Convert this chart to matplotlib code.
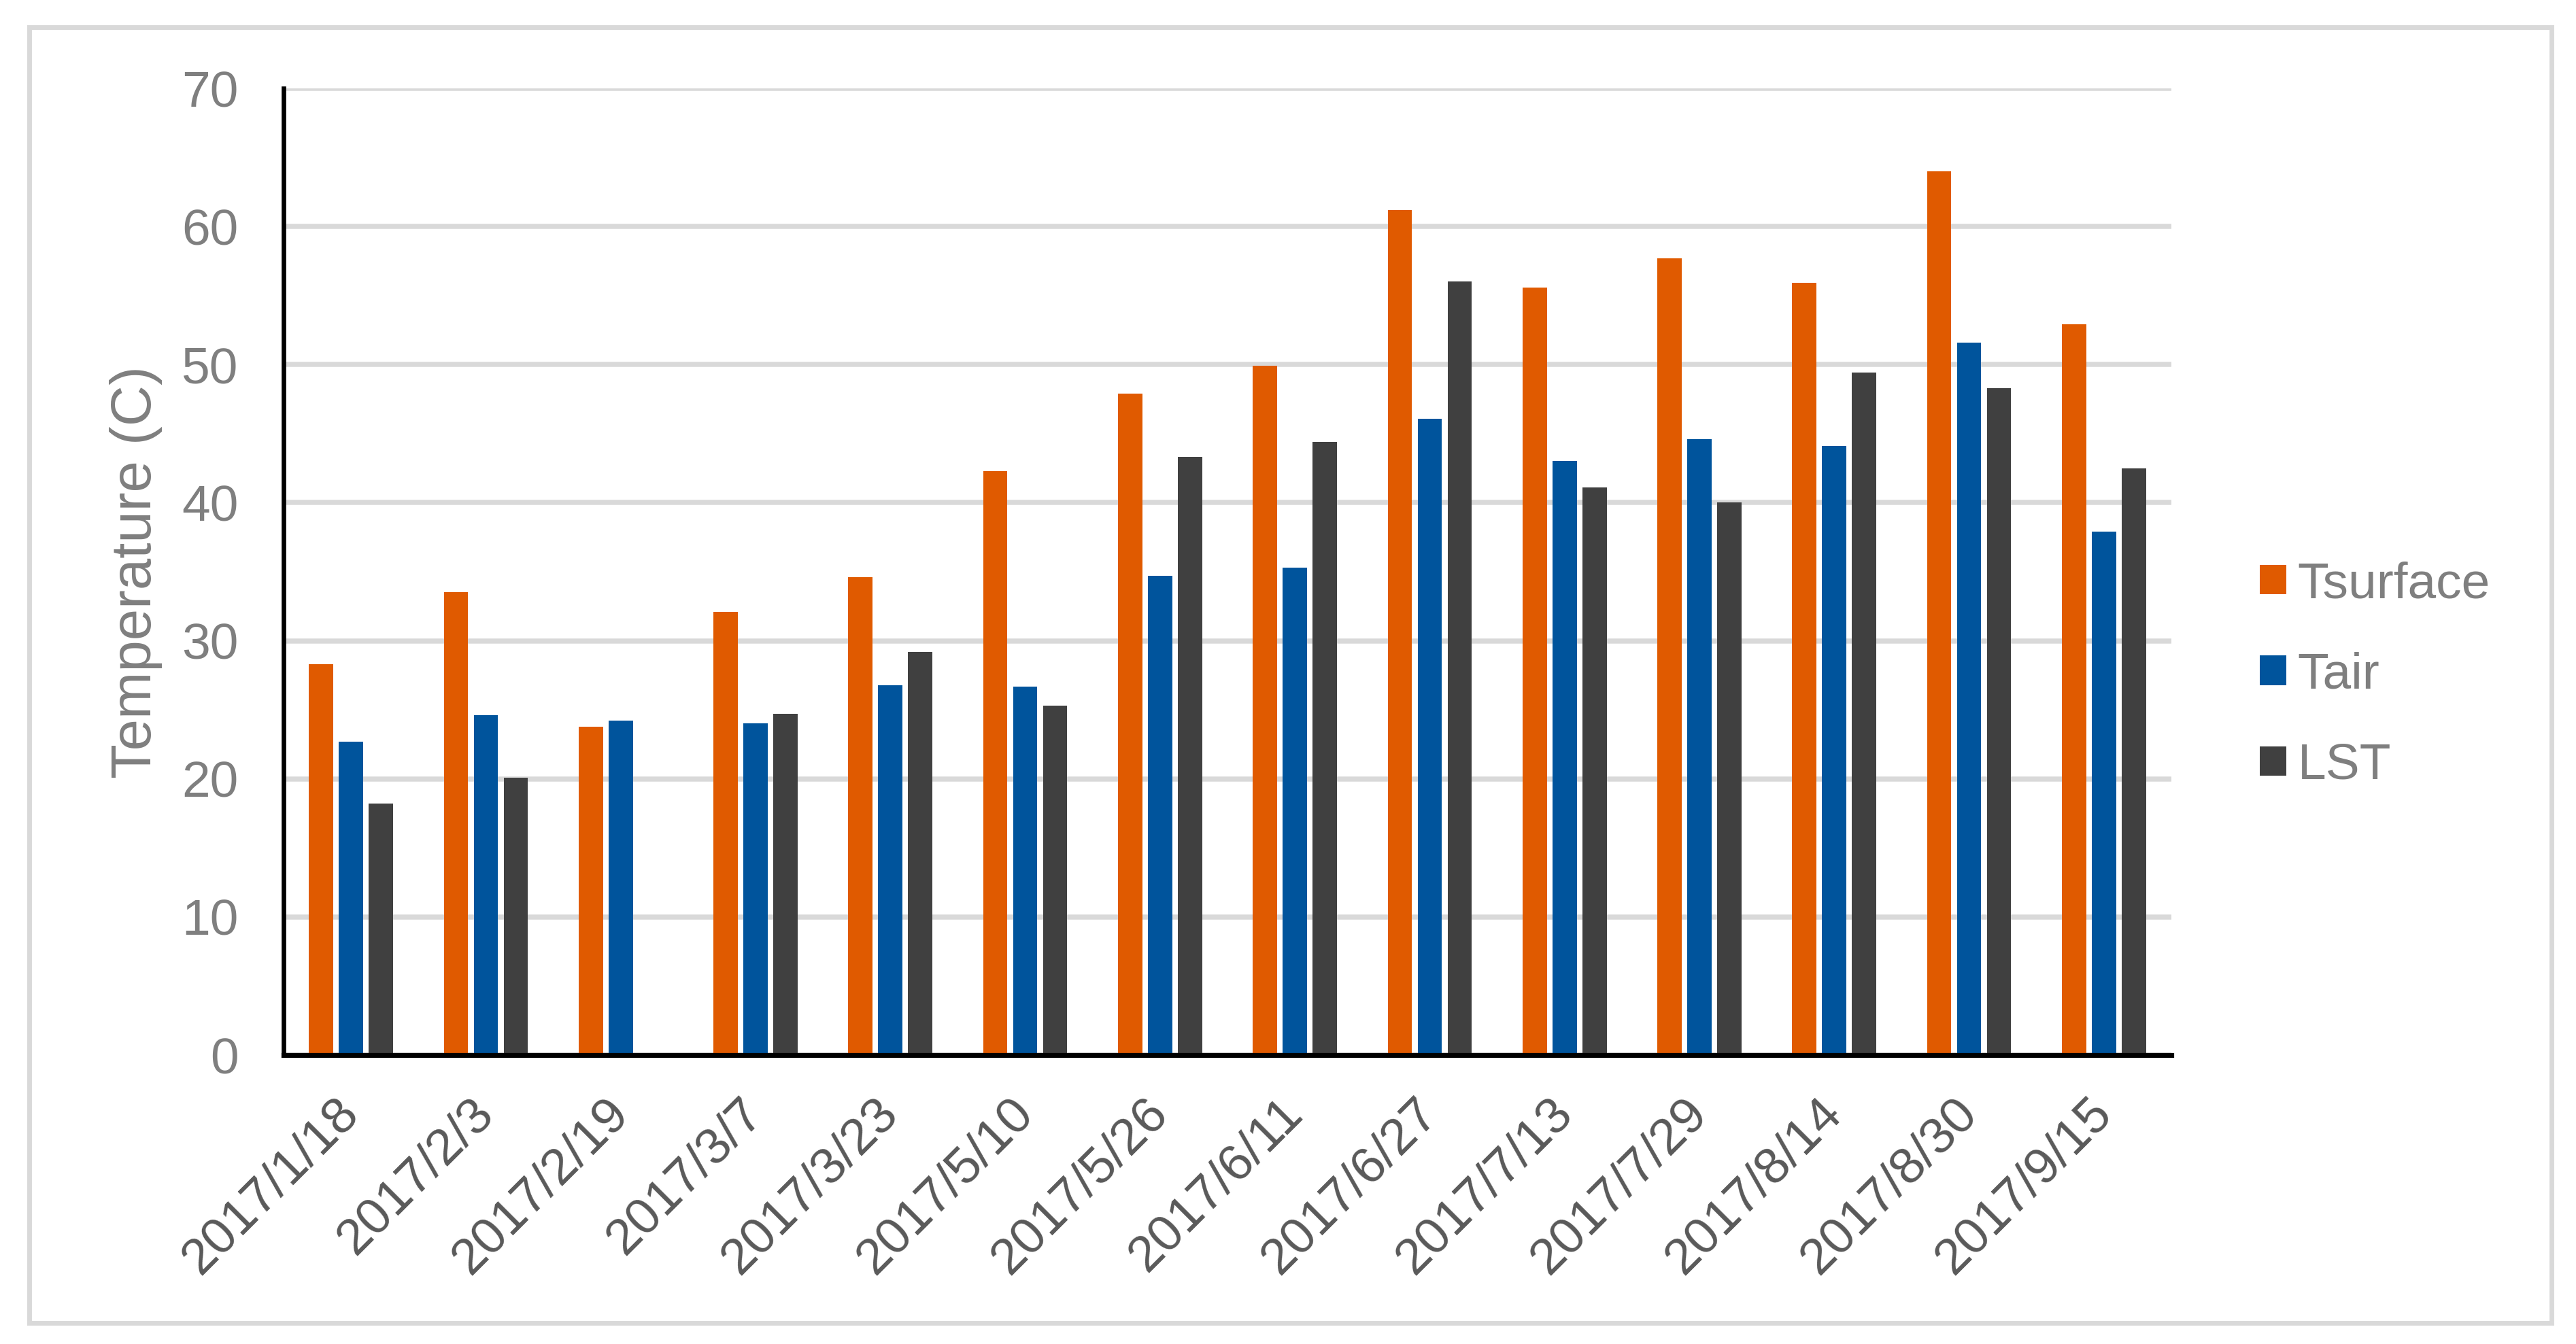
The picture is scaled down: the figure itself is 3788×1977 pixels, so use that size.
import numpy as np
import matplotlib.pyplot as plt
from matplotlib.patches import Rectangle

plt.rcParams['font.family'] = ['Liberation Sans', 'DejaVu Sans']

dates = ['2017/1/18', '2017/2/3', '2017/2/19', '2017/3/7', '2017/3/23', '2017/5/10', '2017/5/26',
         '2017/6/11', '2017/6/27', '2017/7/13', '2017/7/29', '2017/8/14', '2017/8/30', '2017/9/15']
tsurface = [28.3, 33.5, 23.8, 32.1, 34.6, 42.3, 47.9, 49.9, 61.2, 55.6, 57.7, 55.9, 64.0, 52.9]
tair = [22.7, 24.6, 24.2, 24.0, 26.8, 26.7, 34.7, 35.3, 46.1, 43.0, 44.6, 44.1, 51.6, 37.9]
lst = [18.2, 20.1, np.nan, 24.7, 29.2, 25.3, 43.3, 44.4, 56.0, 41.1, 40.0, 49.4, 48.3, 42.5]

W, H, DPI = 3788, 1977, 200
fig = plt.figure(figsize=(W / DPI, H / DPI), dpi=DPI)

# рамка вокруг всей диаграммы
fig.patches.append(Rectangle((43 / W, 1 - 1946 / H), (3752 - 43) / W, (1946 - 40) / H,
                             transform=fig.transFigure, fill=False,
                             edgecolor='#d9d9d9', linewidth=2.5))

ax = fig.add_axes([417 / W, 1 - 1552 / H, (3193 - 417) / W, (1552 - 130) / H])

x = np.arange(len(dates))
w = 0.18
step = 0.222
ax.bar(x - step, tsurface, w, color='#e05a00', label='Tsurface', zorder=3)
ax.bar(x, tair, w, color='#00549c', label='Tair', zorder=3)
ax.bar(x + step, lst, w, color='#404040', label='LST', zorder=3)

ax.set_xlim(-0.5, len(dates) - 0.5)
ax.set_ylim(0, 70)
ax.set_yticks(range(0, 71, 10))
ax.yaxis.grid(True, color='#d9d9d9', linewidth=2.7, zorder=0)
ax.set_axisbelow(True)

for s in ['top', 'right']:
    ax.spines[s].set_visible(False)
ax.spines['left'].set_linewidth(2.4)
ax.spines['bottom'].set_linewidth(2.6)
ax.spines['left'].set_zorder(4)
ax.spines['bottom'].set_zorder(4)

ax.tick_params(axis='y', length=0, pad=24, labelsize=27, labelcolor='#7f7f7f')
ax.tick_params(axis='x', length=0, pad=27, labelsize=27, labelcolor='#595959')
ax.set_xticks(x)
ax.set_xticklabels(dates, rotation=45, ha='right', va='center', rotation_mode='anchor')

fig.text(200 / W, 1 - 842 / H, 'Temperature (C)', rotation=90, fontsize=30,
         color='#7f7f7f', ha='center', va='center')

ax.legend(loc='center left', bbox_to_anchor=(3323 / W, 1 - 993 / H),
          bbox_transform=fig.transFigure, frameon=False, fontsize=27,
          labelcolor='#7f7f7f', handlelength=0.52, handleheight=0.52,
          handletextpad=0.22, labelspacing=0.86, borderpad=0, borderaxespad=0)

fig.savefig('out.png', dpi=DPI, facecolor='white')
